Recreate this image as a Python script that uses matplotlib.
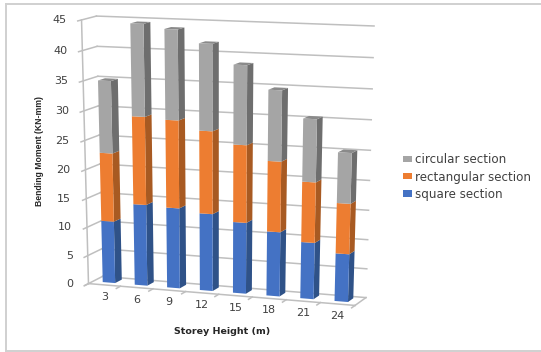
import numpy as np
import matplotlib
matplotlib.use("Agg")
import matplotlib.pyplot as plt
from matplotlib.transforms import Transform
from matplotlib.lines import Line2D

categories = ["3", "6", "9", "12", "15", "18", "21", "24"]
square = [10.9, 14.2, 14.0, 13.4, 12.3, 11.1, 9.7, 8.2]
rectangular = [11.8, 15.0, 14.9, 14.0, 13.1, 11.9, 10.2, 8.5]
circular = [12.2, 15.3, 14.9, 14.3, 13.1, 11.7, 10.4, 8.4]
y_ticks = list(range(0, 50, 5))
series = [("square section", square, "#4472C4", "#2F5288", "#5B85D0"),
          ("rectangular section", rectangular, "#ED7D31", "#A85A22", "#F09050"),
          ("circular section", circular, "#A5A5A5", "#6E6E6E", "#8A8A8A")]

W, H = 541, 352
fig = plt.figure(figsize=(W / 100, H / 100), dpi=100, facecolor="white")
ax = fig.add_axes([0, 0, 1, 1])
ax.set_xlim(0, 8)
ax.set_ylim(0, 45)
ax.set_axis_off()

# Camera calibrated from the chart box corners: (category, value, depth) -> pixel
box = [((0, 0, 0), (89, 283)), ((0, 0, 1), (102, 277)), ((8, 0, 0), (355, 306)),
       ((8, 0, 1), (366, 297)), ((0, 45, 0), (81, 20)), ((0, 45, 1), (97, 16)),
       ((8, 45, 1), (374, 26))]
rows = []
for (x, y, z), (u, v) in box:
    X = [x / 8, y / 45, z, 1]
    rows.append(X + [0, 0, 0, 0] + [-u / 500 * c for c in X])
    rows.append([0, 0, 0, 0] + X + [-v / 500 * c for c in X])
P = np.linalg.svd(np.array(rows))[2][-1].reshape(3, 4)


def project(xyz):
    xyz = np.asarray(xyz, float)
    X = np.c_[xyz[:, 0] / 8, xyz[:, 1] / 45, xyz[:, 2], np.ones(len(xyz))]
    q = X @ P.T
    return np.c_[q[:, 0] / q[:, 2] * 500, H - q[:, 1] / q[:, 2] * 500]


class Face(Transform):
    input_dims = output_dims = 2
    has_inverse = False

    def __init__(self, to3d):
        super().__init__()
        self.to3d = to3d

    def transform_non_affine(self, v):
        return project(self.to3d(np.asarray(v, float)))


def plane_z(z):
    return Face(lambda v: np.c_[v[:, 0], v[:, 1], np.full(len(v), z)])


def plane_x(x):
    return Face(lambda v: np.c_[np.full(len(v), x), v[:, 1], v[:, 0]])


def plane_y(y):
    return Face(lambda v: np.c_[v[:, 0], np.full(len(v), y), v[:, 1]])


GRID = "#BFBFBF"
back, front = plane_z(1), plane_z(0)
wall = plane_x(0)
for t in y_ticks:
    ax.plot([0, 8], [t, t], color=GRID, lw=1.1, transform=back, clip_on=False, zorder=1)
    ax.plot([-0.25, 1], [t, t], color=GRID, lw=1.1, transform=wall, clip_on=False, zorder=1)
    ax.annotate(str(t), xy=(0, t), xycoords=front, xytext=(-15, 0), textcoords="offset pixels",
                ha="right", va="center", fontsize=8, color="#404040", family="DejaVu Sans")
ax.plot([0, 0], [0, 45], color=GRID, lw=1.1, transform=front, clip_on=False, zorder=1)
floor_front = plane_y(0)
ax.plot([0, 8], [0, 0], color=GRID, lw=1.1, transform=floor_front, clip_on=False, zorder=1)
ax.plot([8, 8], [0, 1], color=GRID, lw=1.1, transform=floor_front, clip_on=False, zorder=1)
for i in range(len(categories) + 1):
    ax.plot([i, i], [-0.3, 0], color=GRID, lw=1.1, transform=floor_front, clip_on=False, zorder=1)

centers = np.arange(len(categories)) + 0.5
bar_w, z0, z1 = 0.39, 0.32, 0.80
bar_front = plane_z(z0)
bottom = np.zeros(len(categories))
handles = []
for name, vals, c_front, c_side, c_top in series:
    vals = np.array(vals, float)
    for i, cx in enumerate(centers):
        ax.bar((z0 + z1) / 2, vals[i], width=z1 - z0, bottom=bottom[i], color=c_side,
               transform=plane_x(cx + bar_w / 2), clip_on=False, zorder=3)
    h = ax.bar(centers, vals, width=bar_w, bottom=bottom, color=c_front, label=name,
               transform=bar_front, clip_on=False, zorder=4)
    handles.append(h)
    bottom = bottom + vals
for i, cx in enumerate(centers):
    ax.bar(cx, z1 - z0, width=bar_w, bottom=z0, color="#8A8A8A",
           transform=plane_y(bottom[i]), clip_on=False, zorder=3)

for cx, lab in zip(centers, categories):
    ax.annotate(lab, xy=(cx, 0), xycoords=floor_front, xytext=(0, -12), textcoords="offset pixels",
                ha="center", va="center", fontsize=8, color="#404040", family="DejaVu Sans")

ax.set_xlim(0, 8)
ax.set_ylim(0, 45)
fig.text(40 / W, 1 - 151 / H, "Bending Moment (KN-mm)", rotation=90, ha="center", va="center",
         fontsize=6.2, fontweight="bold", color="#262626", family="Liberation Sans")
fig.text(222 / W, 1 - 331.5 / H, "Storey Height (m)", ha="center", va="center",
         fontsize=6.8, fontweight="bold", color="#262626", family="DejaVu Sans")

fig.legend(handles[::-1], [s[0] for s in series[::-1]], loc="center left",
           bbox_to_anchor=(392 / W, 1 - 177 / H), frameon=False,
           handlelength=0.75, handleheight=0.45, handletextpad=0.25, labelspacing=0.35,
           labelcolor="#404040", prop={"family": "DejaVu Sans", "size": 8.6})

for xs, ys in [((6, 6), (4, 351)), ((6, W), (4, 4)), ((6, W), (351, 351))]:
    fig.add_artist(Line2D([x / W for x in xs], [1 - y / H for y in ys], color="#D0D0D0", lw=1.4))

fig.savefig("out.png", dpi=100, facecolor="white")
